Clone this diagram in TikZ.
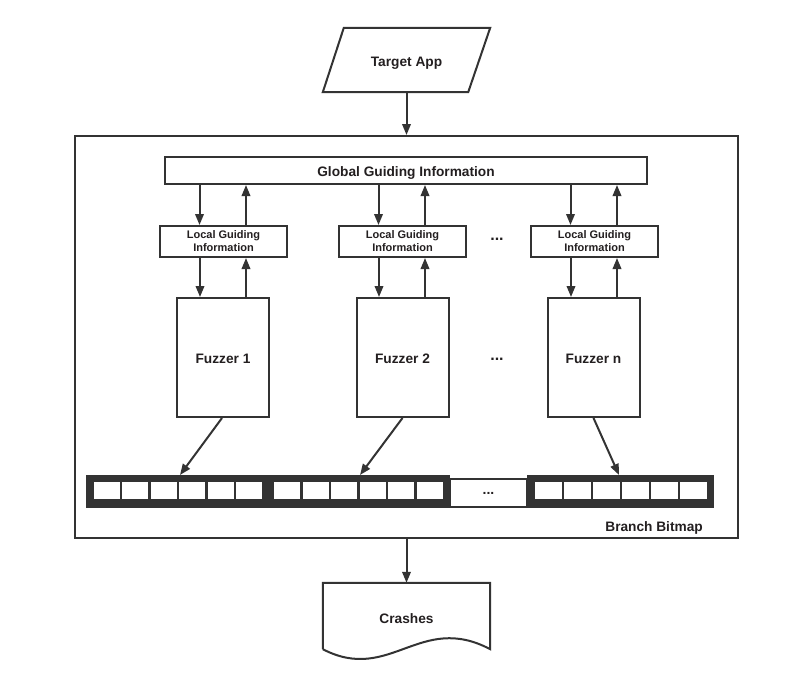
\documentclass[tikz,border=0pt]{standalone}
\usepackage{fontspec}
\setmainfont{Liberation Sans}
\usetikzlibrary{arrows.meta,calc}
\definecolor{ink}{HTML}{333333}
\definecolor{txt}{HTML}{231F20}
\begin{document}
\begin{tikzpicture}[x=1pt,y=-1pt,
  lw/.style={line width=2pt},
  boxnode/.style={draw=ink,lw,fill=white,inner sep=0pt,text=txt,align=center,
    font=\bfseries\fontsize{13.7}{16}\selectfont},
  oneline/.style={text height=12.3pt,text depth=0pt},
  localbox/.style={boxnode,minimum width=127pt,minimum height=31pt,
    font=\bfseries\fontsize{11}{13}\selectfont},
  fuzzbox/.style={boxnode,oneline,minimum width=92pt,minimum height=119pt},
  plain/.style={inner sep=0pt,text=txt,align=center,
    font=\bfseries\fontsize{13.7}{16}\selectfont},
  dotsnode/.style={inner sep=0pt,text=txt,font=\bfseries\fontsize{16}{18}\selectfont},
  outline/.style={draw=ink,lw,line join=miter},
  arr/.style={draw=ink,lw,-{Triangle[length=11pt,width=8.5pt]}},
  bar/.style={fill=ink,inner sep=0pt,minimum height=33pt},
  gapbox/.style={draw=ink,line width=2pt,fill=white,inner sep=0pt,text=txt,
    font=\bfseries\fontsize{14}{16}\selectfont}
]
\useasboundingbox (0,0) rectangle (804,689);

% input: target application (parallelogram)
\node[plain,oneline,minimum width=167pt,minimum height=64pt] (target) at (406.5,60) {Target App};
\draw[outline] ([xshift=21pt]target.north west) -- (target.north east)
  -- ([xshift=-22pt]target.south east) -- (target.south west) -- cycle;

% enclosing frame
\node[draw=ink,lw,inner sep=0pt,minimum width=663pt,minimum height=402pt] (outer) at (406.5,337) {};
\node[plain,oneline,anchor=east] (bblabel) at (703,525) {Branch Bitmap};

% global guiding information
\node[boxnode,oneline,minimum width=482pt,minimum height=27pt] (glob) at (406,170.5) {Global Guiding Information};

% local guiding information per fuzzer
\node[localbox] (loc1) at (223.5,241.5) {Local Guiding\\Information};
\node[localbox] (loc2) at (402.5,241.5) {Local Guiding\\Information};
\node[localbox] (loc3) at (594.5,241.5) {Local Guiding\\Information};
\node[dotsnode] (ldots) at (497,239) {...};

% fuzzers
\node[fuzzbox] (fz1) at (223,357.5) {Fuzzer 1};
\node[fuzzbox] (fz2) at (402.5,357.5) {Fuzzer 2};
\node[fuzzbox] (fzn) at (593.5,357.5) {Fuzzer n};
\node[dotsnode] (fdots) at (497,359) {...};

% exchange arrows: global <-> local <-> fuzzer
\foreach \l/\f in {loc1/fz1,loc2/fz2,loc3/fzn}{
  \draw[arr] ([xshift=-24pt]\l.north |- glob.south) -- ([xshift=-24pt]\l.north);
  \draw[arr] ([xshift=22.5pt]\l.north) -- ([xshift=22.5pt]\l.north |- glob.south);
  \draw[arr] ([xshift=-23.5pt]\l.south) -- ([xshift=-23.5pt]\l.south |- \f.north);
  \draw[arr] ([xshift=22.5pt]\l.south |- \f.north) -- ([xshift=22.5pt]\l.south);
}

% branch bitmap
\node[bar,minimum width=364pt] (barA) at (268,491.5) {};
\node[gapbox,minimum width=77pt,minimum height=28pt] (gap) at (488.5,493) {...};
\node[bar,minimum width=187pt] (barB) at (620.5,491.5) {};
\foreach \a/\b in {94/262,274/443,535/707}{
  \foreach \k in {0,...,5}{
    \fill[white] ({\a+\k*(\b-\a+2.5)/6},482) rectangle ({\a+(\k+1)*(\b-\a+2.5)/6-2.5},499);
  }
}
\coordinate (hit1) at (180,475);
\coordinate (hit2) at (360,475);
\coordinate (hitn) at (619,475);
\draw[arr] ([xshift=-1pt]fz1.south) -- (hit1);
\draw[arr] (fz2.south) -- (hit2);
\draw[arr] (fzn.south) -- (hitn);

% output: crashes (document shape)
\node[plain,oneline,minimum width=167pt,minimum height=66pt,text height=14pt] (crash) at (406.5,616) {Crashes};
\draw[outline] (crash.south west) -- (crash.north west) -- (crash.north east) -- (crash.south east)
  .. controls (420,612) and (390,684) .. (crash.south west);

% flow in and out of the frame
\draw[arr] (target.south) -- (outer.north);
\draw[arr] (outer.south) -- (crash.north);
\end{tikzpicture}
\end{document}
